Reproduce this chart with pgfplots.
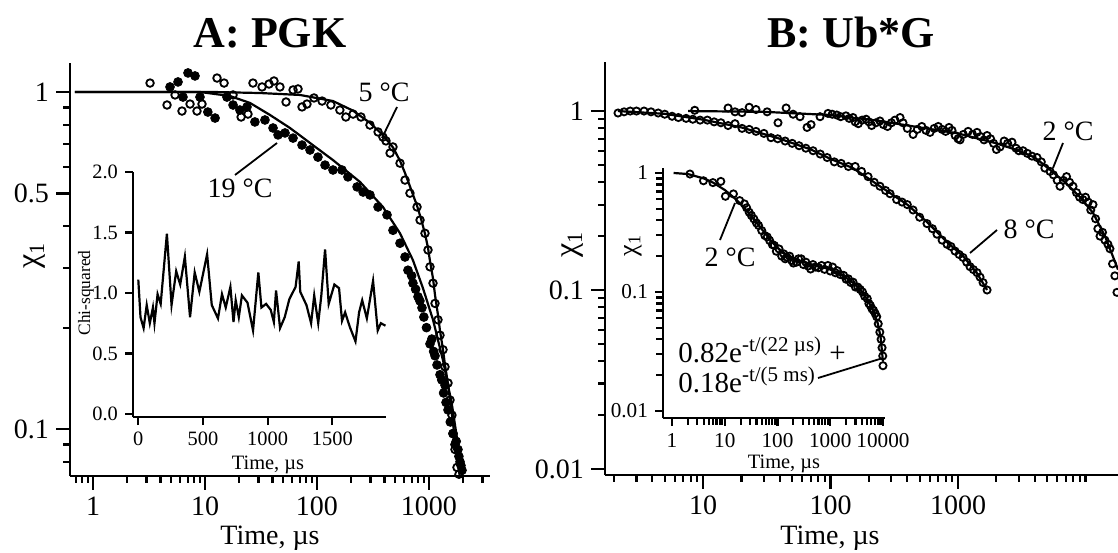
\documentclass[border=0pt]{standalone}
\usepackage{fontspec}
\setmainfont{Liberation Serif}
\usepackage{pgfplots}
\pgfplotsset{compat=1.18}
\newcommand\fTL{\fontsize{14}{15}\selectfont}
\newcommand\fIN{\fontsize{10.2}{11}\selectfont}
\newcommand\chione{χ\raisebox{-0.35ex}{\fontsize{11}{11}\selectfont 1}}
\newcommand\chiin{χ\raisebox{-0.35ex}{\fontsize{9}{9}\selectfont 1}}
\pgfplotsset{
  base/.style={scale only axis, axis x line*=bottom, axis y line*=left,
    axis line style={line width=1.4pt,-}, tick align=outside,
    major tick length=7pt, minor tick length=3.5pt,
    tick style={line width=1.1pt,black},
    tick label style={font=\fTL}},
  opn/.style={only marks, mark=o, mark size=1.9pt, mark options={line width=0.9pt,black}},
  fld/.style={only marks, mark=*, mark size=2.2pt, mark options={black,fill=black}},
  fit/.style={line width=1.1pt, black, no marks},
}
\begin{document}
\begin{tikzpicture}
\useasboundingbox (0,0) rectangle (559pt,276pt);
% ---------------- Panel A main
\begin{axis}[base, at={(35pt,38pt)}, anchor=south west,
  width=210pt, height=206.5pt,
  xmode=log, ymode=log, xmin=0.623, xmax=3506, ymin=0.0726, ymax=1.219,
  xtick={1,10,100,1000}, xticklabels={1,10,100,1000},
  minor xtick={0.7,0.8,0.9,2,3,4,5,6,7,8,9,20,30,40,50,60,70,80,90,200,300,400,500,600,700,800,900,2000,3000},
  ytick={0.1,0.5,1}, yticklabels={0.1,0.5,1},
  minor ytick={0.08,0.09,0.2,0.3,0.4,0.6,0.7,0.8,0.9}]
\addplot[fit] coordinates {(0.69,1)(11.8,1)(31,0.993)(70.5,0.98)(139,0.94)(210,0.88)(297,0.81)(388,0.745)(477,0.685)(551,0.625)(611,0.575)(676,0.525)(782,0.46)(850,0.42)(921,0.38)(980,0.345)(1021,0.315)(1086,0.28)(1132,0.25)(1203,0.218)(1254,0.196)(1334,0.172)(1390,0.155)(1479,0.136)(1541,0.122)(1604,0.110)(1707,0.093)(1800,0.082)(1880,0.0726)};
\addplot[fit] coordinates {(0.69,1)(9.02,1)(16.7,0.973)(25.2,0.928)(38,0.855)(57.4,0.782)(86.6,0.706)(139,0.628)(242,0.541)(388,0.456)(551,0.381)(719,0.317)(883,0.262)(1086,0.211)(1334,0.160)(1604,0.118)(1815,0.090)(1972,0.0726)};
\addplot[opn] coordinates {(3.23,1.063)(4.58,0.915)(5.40,0.980)(6.23,0.878)(7.35,0.921)(8.48,0.878)(9.40,0.921)(12.8,1.100)(14.8,1.063)(17.8,0.980)(21.0,0.843)(24.2,0.860)(26.8,1.063)(32.3,1.035)(37.3,1.056)(41.3,1.078)(46.7,1.035)(52.9,0.934)(61.1,1.014)(67.7,1.021)(73.5,0.903)(81.4,0.921)(94.0,0.960)(111,0.940)(133,0.915)(160,0.884)(181,0.843)(210,0.860)(247,0.843)(297,0.798)(351,0.761)(388,0.735)(413,0.716)(449,0.659)(477,0.687)(551,0.615)(611,0.548)(676,0.501)(782,0.456)(832,0.417)(921,0.381)(980,0.340)(1021,0.303)(1086,0.271)(1132,0.236)(1203,0.211)(1254,0.190)(1334,0.172)(1390,0.153)(1479,0.137)(1541,0.122)(1604,0.110)(1638,0.097)(1707,0.087)(1778,0.077)(1853,0.0735)};
\addplot[fld] coordinates {(4.87,1.035)(5.74,1.071)(6.36,0.966)(7.05,1.139)(8.14,1.116)(9.02,0.966)(10.6,0.872)(12.3,0.837)(15.7,0.966)(17.8,0.915)(20.5,0.884)(23.7,0.903)(27.9,0.815)(34.3,0.826)(40.5,0.782)(44.9,0.746)(51.8,0.756)(61.1,0.730)(73.5,0.696)(86.6,0.673)(102,0.641)(118,0.607)(139,0.587)(167,0.587)(189,0.560)(228,0.523)(258,0.505)(297,0.495)(351,0.456)(422,0.432)(477,0.389)(551,0.356)(611,0.324)(649,0.296)(700,0.285)(719,0.271)(760,0.26)(798,0.247)(830,0.24)(866,0.229)(900,0.215)(950,0.20)(1021,0.179)(1060,0.185)(1100,0.17)(1132,0.165)(1180,0.155)(1254,0.145)(1300,0.14)(1350,0.128)(1390,0.135)(1420,0.12)(1479,0.114)(1550,0.105)(1638,0.097)(1707,0.090)(1750,0.092)(1815,0.087)(1850,0.083)(1892,0.080)(1930,0.078)(1972,0.0755)};
\end{axis}
% ---------------- Panel A inset (chi-squared)
\begin{axis}[base, at={(66.5pt,67.5pt)}, anchor=south west,
  width=126.5pt, height=122.5pt,
  xmin=-41, xmax=1915, ymin=-0.025, ymax=2.0,
  major tick length=4pt,
  tick label style={font=\fIN},
  xtick={0,500,1000,1500}, xticklabels={0,500,1000,1500},
  ytick={0,0.5,1,1.5,2}, yticklabels={0.0,0.5,1.0,1.5,2.0}]
\addplot[line width=1.1pt, black, no marks] coordinates {(0,1.11)(17,0.80)(41,0.71)(65,0.90)(89,0.75)(113,0.88)(125,0.75)(149,0.99)(173,0.91)(221,1.49)(257,0.90)(293,1.18)(324,1.07)(360,1.30)(400,0.80)(436,1.17)(472,1.01)(532,1.32)(568,0.90)(616,0.79)(647,0.99)(676,0.88)(712,1.05)(736,0.76)(753,0.94)(777,0.80)(801,0.98)(844,0.92)(887,0.69)(928,1.17)(952,0.88)(988,0.91)(1024,0.86)(1048,0.76)(1065,1.02)(1096,0.71)(1132,0.80)(1168,0.95)(1216,1.05)(1240,1.26)(1252,1.01)(1300,0.90)(1336,0.75)(1360,0.98)(1391,0.75)(1415,0.98)(1444,1.36)(1472,0.91)(1516,1.07)(1552,1.04)(1575,0.77)(1599,0.84)(1635,0.72)(1679,0.60)(1707,0.84)(1731,0.94)(1767,0.79)(1815,1.10)(1851,0.69)(1875,0.75)(1911,0.73)};
\end{axis}
% ---------------- Panel B main
\begin{axis}[base, at={(302.5pt,38.5pt)}, anchor=south west,
  width=256.5pt, height=206.5pt,
  xmode=log, ymode=log, xmin=1.70, xmax=18000, ymin=0.00925, ymax=1.88,
  xtick={10,100,1000}, xticklabels={10,100,1000},
  minor xtick={2,3,4,5,6,7,8,9,20,30,40,50,60,70,80,90,200,300,400,500,600,700,800,900,2000,3000,4000,5000,6000,7000,8000,9000,10000},
  ytick={0.01,0.1,1}, yticklabels={0.01,0.1,1},
  minor ytick={0.02,0.03,0.04,0.05,0.06,0.07,0.08,0.09,0.2,0.3,0.4,0.5,0.6,0.7,0.8,0.9}]
\addplot[fit] coordinates {(7.62,1.0)(30,0.99)(100,0.95)(244,0.88)(450,0.82)(1000,0.75)(2000,0.66)(3000,0.60)(4000,0.55)(5270,0.47)(6900,0.40)(9060,0.33)(11450,0.27)(14220,0.20)(18000,0.13)};
\addplot[fit] coordinates {(2.15,1.0)(5,0.965)(10,0.895)(20,0.81)(40,0.70)(70,0.61)(100,0.54)(150,0.48)(244,0.38)(400,0.30)(571,0.24)(820,0.185)(1094,0.155)(1400,0.125)(1690,0.10)};
\addplot[opn, mark size=1.8pt] coordinates {(8.6,1.01)(15.7,1.04)(17.8,0.99)(20.2,0.98)(23.0,1.05)(26.0,1.02)(31.8,0.99)(38.7,0.86)(44.8,1.04)(50.8,0.96)(57.6,0.93)(65.4,0.81)(70.3,0.84)(82.7,0.93)(95.5,0.97)(103,0.96)(112,0.95)(120,0.93)(132,0.94)(140,0.91)(150,0.92)(156,0.87)(165,0.85)(177,0.89)(190,0.90)(200,0.87)(210,0.83)(227,0.86)(244,0.88)(260,0.84)(280,0.82)(300,0.86)(320,0.89)(351,0.92)(370,0.86)(400,0.80)(444,0.74)(480,0.79)(520,0.82)(560,0.78)(603,0.76)(650,0.80)(700,0.82)(750,0.79)(800,0.77)(850,0.81)(897,0.78)(950,0.73)(1000,0.70)(1037,0.69)(1100,0.74)(1200,0.77)(1300,0.74)(1410,0.76)(1500,0.72)(1600,0.69)(1690,0.73)(1800,0.70)(1900,0.66)(2000,0.61)(2135,0.63)(2300,0.68)(2450,0.66)(2650,0.67)(2850,0.62)(3000,0.60)(3235,0.60)(3500,0.58)(3800,0.56)(4165,0.55)(4500,0.52)(4800,0.48)(5270,0.46)(5600,0.44)(6000,0.41)(6310,0.38)(6700,0.41)(7100,0.43)(7500,0.40)(7980,0.38)(8500,0.35)(9000,0.33)(9550,0.32)(10000,0.33)(10500,0.31)(11000,0.28)(11450,0.30)(12000,0.25)(12500,0.22)(13000,0.20)(13600,0.21)(14200,0.19)(15000,0.18)(15560,0.17)(16300,0.14)(17000,0.12)(17660,0.097)};
\addplot[opn, mark size=1.8pt] coordinates {(2.15,0.975)(2.4,0.99)(2.68,1.0)(3.0,1.0)(3.44,1.0)(3.9,0.99)(4.44,0.975)(5.0,0.96)(5.71,0.935)(6.4,0.92)(7.36,0.91)(8.3,0.90)(9.47,0.89)(10.8,0.89)(12.2,0.87)(13.8,0.86)(15.7,0.83)(17.8,0.85)(20.2,0.80)(23,0.79)(26,0.77)(30,0.75)(34.1,0.71)(38.5,0.70)(44,0.68)(50,0.66)(56.6,0.64)(64,0.62)(72.9,0.60)(83,0.575)(94,0.55)(107,0.52)(121,0.51)(138,0.49)(156,0.49)(175,0.46)(197,0.43)(220,0.40)(244,0.38)(270,0.36)(293,0.345)(330,0.32)(364,0.31)(400,0.30)(444,0.28)(500,0.255)(571,0.235)(630,0.22)(684,0.205)(750,0.19)(820,0.18)(880,0.175)(947,0.165)(1020,0.158)(1094,0.152)(1170,0.143)(1242,0.135)(1320,0.13)(1410,0.125)(1489,0.118)(1572,0.11)(1690,0.10)};
\end{axis}
% ---------------- Panel B inset
\begin{axis}[base, at={(331.5pt,67pt)}, anchor=south west,
  width=111pt, height=125pt,
  xmode=log, ymode=log, xmin=0.675, xmax=10920, ymin=0.00873, ymax=1.101,
  major tick length=4pt,
  tick label style={font=\fontsize{10.6}{11}\selectfont},
  xtick={1,10,100,1000,10000}, xticklabels={1,10,100,1000,10000},
  minor xtick={}, minor ytick={},
  ytick={0.01,0.1,1}, yticklabels={0.01,0.1,1}]
\addplot[fit] coordinates {(1.07,1.0)(2,0.98)(4,0.9)(6,0.83)(10,0.72)(15,0.62)(20,0.55)(30,0.45)(45,0.36)(70,0.28)(100,0.235)(150,0.205)(250,0.185)(400,0.172)(700,0.162)(1000,0.155)(1500,0.143)(2000,0.132)(3000,0.115)(4000,0.10)(5000,0.087)(6000,0.075)(7000,0.065)(8000,0.054)(9000,0.042)(10000,0.026)};
\addplot[opn, mark size=1.8pt] coordinates {(2.19,0.98)(3.95,0.86)(5.97,0.83)(8.42,0.85)(10.3,0.637)(14.6,0.667)(19.2,0.586)(23.6,0.550)(26,0.51)(29.0,0.468)(32,0.44)(35.7,0.411)(40,0.38)(43.8,0.362)(50.3,0.328)(57.7,0.298)(64,0.29)(70.9,0.271)(80,0.25)(87.1,0.246)(95,0.22)(107,0.230)(120,0.20)(132,0.209)(140,0.19)(151,0.196)(170,0.20)(186,0.184)(200,0.175)(228,0.178)(250,0.19)(281,0.190)(310,0.17)(345,0.178)(380,0.165)(424,0.156)(470,0.17)(521,0.162)(600,0.16)(685,0.167)(780,0.155)(902,0.167)(1000,0.15)(1109,0.162)(1250,0.145)(1362,0.151)(1550,0.14)(1793,0.138)(2000,0.128)(2205,0.129)(2450,0.12)(2710,0.121)(3000,0.11)(3330,0.110)(3700,0.105)(4090,0.100)(4500,0.092)(5030,0.088)(5400,0.08)(5770,0.077)(6200,0.072)(6620,0.070)(7100,0.066)(7600,0.062)(8130,0.054)(8710,0.046)(9200,0.040)(9600,0.034)(9900,0.029)(10000,0.024)};
\end{axis}
% ---------------- texts and leaders
\begin{scope}[x=0.5pt,y=-0.5pt,shift={(0pt,276pt)}]
\node[font=\bfseries\fontsize{22}{23}\selectfont] at (270,33) {A: PGK};
\node[font=\bfseries\fontsize{22}{23}\selectfont] at (851,33) {B: Ub*G};
\node[font=\fTL,inner sep=0pt] at (270,538) {Time, µs};
\node[font=\fTL,inner sep=0pt] at (830,538) {Time, µs};
\node[font=\fontsize{16}{17}\selectfont,rotate=90] at (35,256) {\chione};
\node[font=\fontsize{16}{17}\selectfont,rotate=90] at (573,245) {\chione};
\node[font=\fontsize{8.7}{9}\selectfont,rotate=90] at (86,293) {Chi-squared};
\node[font=\fIN,inner sep=0pt] at (268,465) {Time, µs};
\node[font=\fIN,inner sep=0pt] at (784,464) {Time, µs};
\node[font=\fontsize{13}{14}\selectfont,rotate=90] at (633,246) {\chiin};
\node[font=\fTL] at (384,92) {5 °C};
\draw[line width=0.9pt] (397,107) -- (382,138);
\node[font=\fTL] at (240,188) {19 °C};
\draw[line width=0.9pt] (235,175) -- (277,143);
\node[font=\fTL] at (1068,131) {2 °C};
\draw[line width=0.9pt] (1063,143) -- (1053,168);
\node[font=\fTL] at (1029,229) {8 °C};
\draw[line width=0.9pt] (997,230) -- (970,253);
\node[font=\fTL] at (730,257) {2 °C};
\draw[line width=0.9pt] (720,240) -- (735,203);
\node[font=\fontsize{14.5}{15}\selectfont,anchor=west,inner sep=0pt] at (678,350) {0.82e\textsuperscript{\fontsize{10.5}{11}\selectfont -t/(22 µs)} +};
\node[font=\fontsize{14.5}{15}\selectfont,anchor=west,inner sep=0pt] at (678,380) {0.18e\textsuperscript{\fontsize{10.5}{11}\selectfont -t/(5 ms)}};
\draw[line width=0.9pt] (818,378) -- (883,358);
\end{scope}
\end{tikzpicture}
\end{document}
